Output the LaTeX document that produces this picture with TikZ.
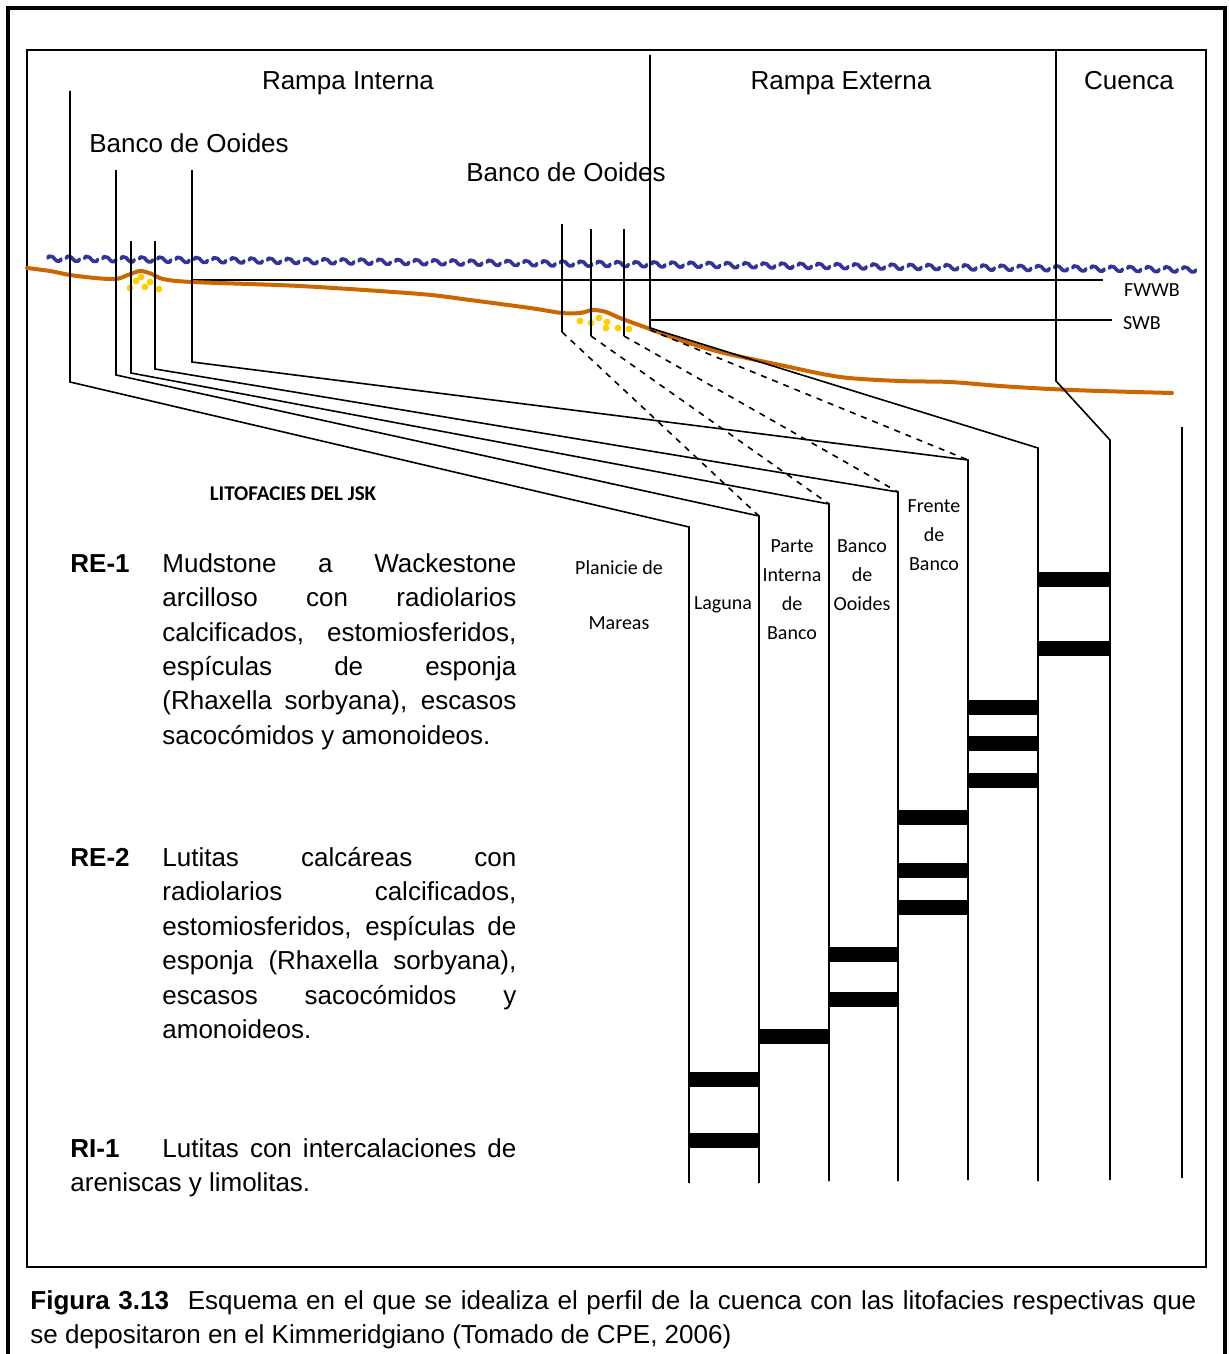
\documentclass[tikz,border=0pt]{standalone}
\usepackage{fontspec}
\setmainfont{Liberation Sans}
\newfontfamily\calibrifont{Carlito}
\usetikzlibrary{positioning}

\definecolor{seabed}{RGB}{204,102,0}
\definecolor{seawave}{RGB}{51,51,153}
\definecolor{ooid}{RGB}{255,204,0}

\tikzset{
  facies/.style={line width=0.8pt},
  bed/.style={line width=7.5pt},
  bigtext/.style={font=\fontsize{13}{17.2}\selectfont, inner sep=0pt},
  smalllabel/.style={font=\calibrifont\fontsize{10}{14.5}\selectfont, inner sep=0pt, align=center},
}

\begin{document}
\begin{tikzpicture}[x=0.5pt,y=-0.5pt]
  \useasboundingbox (0,0) rectangle (1229,1354);

  % frames
  \draw[line width=2pt] (8,1370) -- (8,8) -- (1225,8) -- (1225,1370);
  \draw[line width=1pt] (27,50) rectangle (1206,1267);

  % zone headings
  \node[bigtext, anchor=base] (rinterna) at (348,90) {Rampa Interna};
  \node[bigtext, anchor=base] (rexterna) at (841,90) {Rampa Externa};
  \node[bigtext, anchor=base] (cuenca) at (1129,90) {Cuenca};
  \node[bigtext, anchor=base] (bancoa) at (189,153) {Banco de Ooides};
  \node[bigtext, anchor=base] (bancob) at (566,181) {Banco de Ooides};

  % sea level
  \foreach \i in {0,...,62} {
    \pgfmathsetmacro\wx{48+18.3*\i}
    \pgfmathsetmacro\wy{259+(\wx-48)*0.0096}
    \begin{scope}[shift={(\wx,\wy)}]
      \draw[seawave, line width=1.8pt, line cap=round, line join=round]
        (0,-1) -- (1,-3) -- (5,-2) .. controls (7,-1) and (7,2) .. (9,2) -- (12,2) -- (13,0);
    \end{scope}
  }

  % wave base lines
  \draw[facies] (192,280) -- (1103,280);
  \draw[facies] (650,320) -- (1112,320);
  \node[smalllabel, anchor=base] (fwwb) at (1152,296) {FWWB};
  \node[smalllabel, anchor=base] (swb) at (1142,329) {SWB};

  % sea floor
  \draw[seabed, line width=2pt, line cap=round] plot[smooth, tension=0.5] coordinates {
    (27,268) (50,271) (70,275) (95,278) (116,279) (128,275) (140,271) (152,274) (163,279)
    (192,282) (300,286) (420,294) (470,300) (530,308) (562,313) (580,313) (593,310)
    (606,312) (620,318) (650,329) (680,340) (720,352) (780,365) (840,377) (900,381)
    (950,382) (1000,386) (1050,389) (1100,391) (1172,393)};

  % ooids
  \foreach \ox/\oy in {130/288, 136/281, 141/277, 145/287, 150/282, 159/289,
                       580/321, 591/323, 599/318, 607/322, 606/328, 618/328, 629/329}
    \fill[ooid] (\ox,\oy) circle (1.7pt);

  % column tops
  \coordinate (c1) at (689,527);
  \coordinate (c2) at (759,516);
  \coordinate (c3) at (829,504);
  \coordinate (c4) at (898,492);
  \coordinate (c5) at (968,460);
  \coordinate (c6) at (1038,448);
  \coordinate (c7) at (1110,440);
  \coordinate (c8) at (1182,427);

  % profile lines down to the columns
  \draw[facies] (70,91) -- (70,382) -- (c1) -- (689,1183);
  \draw[facies] (116,170) -- (116,375) -- (c2) -- (759,1183);
  \draw[facies] (131,241) -- (131,373) -- (c3) -- (829,1181);
  \draw[facies] (155,241) -- (155,369) -- (c4) -- (898,1181);
  \draw[facies] (192,170) -- (192,362) -- (c5) -- (968,1180);
  \draw[facies] (650,55) -- (650,328) -- (c6) -- (1038,1181);
  \draw[facies] (1056,50) -- (1056,381) -- (c7) -- (1110,1180);
  \draw[facies] (c8) -- (1182,1178);

  % outer bank
  \draw[facies] (562,224) -- (562,332);
  \draw[facies] (591,229) -- (591,336);
  \draw[facies] (624,229) -- (624,336);
  \draw[facies, dashed] (562,332) -- (c2);
  \draw[facies, dashed] (591,336) -- (c3);
  \draw[facies, dashed] (624,336) -- (c4);
  \draw[facies, dashed] (650,330) -- (c5);

  % beds
  \draw[bed] (689,1079) -- (759,1079);
  \draw[bed] (689,1140) -- (759,1140);
  \draw[bed] (759,1036) -- (829,1036);
  \draw[bed] (829,954) -- (898,954);
  \draw[bed] (829,999) -- (898,999);
  \draw[bed] (898,817) -- (968,817);
  \draw[bed] (898,870) -- (968,870);
  \draw[bed] (898,907) -- (968,907);
  \draw[bed] (968,707) -- (1038,707);
  \draw[bed] (968,743) -- (1038,743);
  \draw[bed] (968,780) -- (1038,780);
  \draw[bed] (1038,579) -- (1110,579);
  \draw[bed] (1038,648) -- (1110,648);

  % column names
  \node[smalllabel, anchor=north] (planicie) at (619,560) {Planicie de\\[13pt]Mareas};
  \node[smalllabel, anchor=base] (laguna) at (723,609) {Laguna};
  \node[smalllabel, anchor=north] (parte) at (792,539) {Parte\\Interna\\de\\Banco};
  \node[smalllabel, anchor=north] (bancooo) at (862,539) {Banco\\de\\Ooides};
  \node[smalllabel, anchor=north] (frente) at (934,499) {Frente\\de\\Banco};

  % legend
  \node[smalllabel, anchor=base, font=\calibrifont\bfseries\fontsize{10.5}{12}\selectfont] (lito) at (293,500) {LITOFACIES DEL JSK};

  \node[bigtext, anchor=base west, font=\bfseries\fontsize{13}{17.2}\selectfont] (re1) at (70,572) {RE-1};
  \node[bigtext, anchor=north west, text width=177pt, align=justify] (re1text) at (162,553)
    {Mudstone a Wackestone\linebreak arcilloso con radiolarios\linebreak calcificados, estomiosferidos,\linebreak espículas de esponja\linebreak (Rhaxella sorbyana), escasos\linebreak sacocómidos y amonoideos.};

  \node[bigtext, anchor=base west, font=\bfseries\fontsize{13}{17.2}\selectfont] (re2) at (70,866) {RE-2};
  \node[bigtext, anchor=north west, text width=177pt, align=justify] (re2text) at (162,847)
    {Lutitas calcáreas con\linebreak radiolarios calcificados,\linebreak estomiosferidos, espículas de\linebreak esponja (Rhaxella sorbyana),\linebreak escasos sacocómidos y\linebreak amonoideos.};

  \node[bigtext, anchor=north west, text width=223pt, align=justify] (ri1) at (70,1138)
    {\makebox[46pt][l]{\textbf{RI-1}}Lutitas con intercalaciones de\linebreak areniscas y limolitas.};

  % caption
  \node[bigtext, anchor=north west, text width=583pt, align=justify] (caption) at (30,1290)
    {\textbf{Figura 3.13}\hspace{5pt} Esquema en el que se idealiza el perfil de la cuenca con las litofacies respectivas que\linebreak se depositaron en el Kimmeridgiano (Tomado de CPE, 2006)};
\end{tikzpicture}
\end{document}
